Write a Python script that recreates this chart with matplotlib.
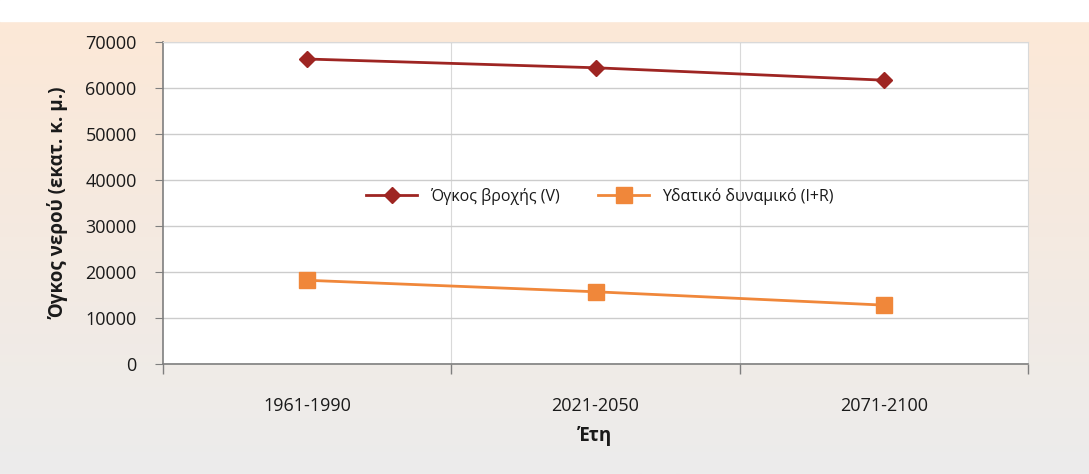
import matplotlib

matplotlib.use("Agg")
import matplotlib.pyplot as plt
import numpy as np
from matplotlib.ticker import FixedLocator, NullFormatter

plt.rcParams["font.family"] = ["Open Sans", "DejaVu Sans"]

PERIODS = ["1961-1990", "2021-2050", "2071-2100"]
RAIN_VOLUME = [66300, 64400, 61700]
WATER_POTENTIAL = [18200, 15700, 12800]
SERIES_LABELS = ["Όγκος βροχής (V)", "Υδατικό δυναμικό (I+R)"]
Y_TICKS = [0, 10000, 20000, 30000, 40000, 50000, 60000, 70000]

RED = "#9e2522"
ORANGE = "#f0873a"
TEXT = "#1a1a1a"

fig = plt.figure(figsize=(10.89, 4.74), dpi=100)

# background panel: peach at the top fading to light grey
bg = fig.add_axes([0, 0, 1, 1], zorder=-10)
grad = np.linspace(0, 1, 256)[:, None]
top = np.array([253, 232, 214]) / 255
bottom = np.array([236, 236, 236]) / 255
img = top[None, None, :] * (1 - grad[..., None]) + bottom[None, None, :] * grad[..., None]
bg.imshow(img, aspect="auto", extent=[0, 1, 0, 1])
bg.axhspan(0.955, 1.0, color="white")
bg.set_xlim(0, 1)
bg.set_ylim(0, 1)
bg.axis("off")

ax = fig.add_axes([163 / 1089, 1 - 364 / 474, 865 / 1089, 322 / 474])
ax.set_facecolor("white")
x = np.arange(len(PERIODS))

ax.plot(x, RAIN_VOLUME, color=RED, linewidth=2, marker="D", markersize=8, label=SERIES_LABELS[0])
ax.plot(x, WATER_POTENTIAL, color=ORANGE, linewidth=2, marker="s", markersize=11, label=SERIES_LABELS[1])

ax.set_xlim(-0.5, len(PERIODS) - 0.5)
ax.set_ylim(0, 70000)
ax.set_yticks(Y_TICKS)
ax.yaxis.grid(True, color="#cccccc", linewidth=1)
ax.set_axisbelow(True)

ax.set_xticks(x, PERIODS)
ax.tick_params(axis="x", which="major", length=0, pad=24, labelsize=13, labelcolor=TEXT)
ax.xaxis.set_minor_locator(FixedLocator(np.arange(-0.5, len(PERIODS), 1.0)))
ax.xaxis.set_minor_formatter(NullFormatter())
ax.tick_params(axis="x", which="minor", length=7, color="#7f7f7f", width=1)
for b in np.arange(0.5, len(PERIODS) - 0.5, 1.0):
    ax.axvline(b, color="#d9d9d9", linewidth=0.8, zorder=0)
ax.tick_params(axis="y", length=6, color="#7f7f7f", labelsize=13, pad=13, labelcolor=TEXT)

for side in ["top", "right"]:
    ax.spines[side].set_color("#d9d9d9")
for side in ["left", "bottom"]:
    ax.spines[side].set_color("#7f7f7f")
    ax.spines[side].set_linewidth(1.2)

ax.set_ylabel("Όγκος νερού (εκατ. κ. μ.)", fontsize=13.5, fontweight="bold", labelpad=12, color=TEXT)
ax.set_xlabel("Έτη", fontsize=13.5, fontweight="bold", labelpad=8, color=TEXT)

ax.legend(loc="center", bbox_to_anchor=(0.505, 0.52), ncol=2, frameon=False,
          fontsize=11.5, handlelength=3.2, columnspacing=2.4, labelcolor=TEXT)

fig.savefig("out.png", dpi=100)
